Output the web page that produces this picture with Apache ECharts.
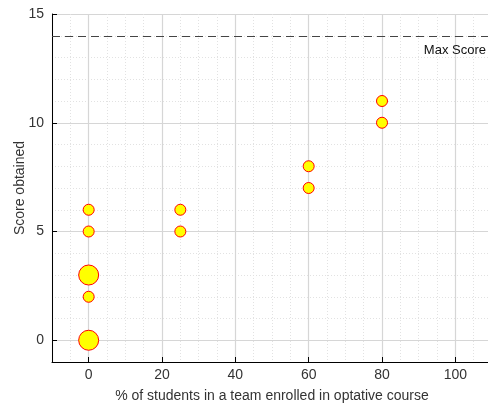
<!DOCTYPE html>
<html><head><meta charset="utf-8">
<script src="https://cdn.jsdelivr.net/npm/echarts@6/dist/echarts.min.js"></script>
<style>html,body{margin:0;padding:0;background:#fff}#c{width:488px;height:405px}</style>
</head><body><div id="c"></div>
<script>
const pctEnrolled = [0, 0, 0, 0, 0, 25, 25, 60, 60, 80, 80];
const scores      = [0, 2, 3, 5, 6, 5, 6, 7, 8, 10, 11];
const teamCounts  = [2, 1, 2, 1, 1, 1, 1, 1, 1, 1, 1];
const xTickLabels = [0, 20, 40, 60, 80, 100];
const yTickLabels = [0, 5, 10, 15];
const maxScore = 14;

const data = pctEnrolled.map((x, i) => [x, scores[i], teamCounts[i]]);
const font = 'Liberation Sans, Arial, sans-serif';
const chart = echarts.init(document.getElementById('c'));
chart.setOption({
  animation: false,
  grid: { left: 52, right: -4, top: 14, bottom: 43, containLabel: false, outerBoundsMode: 'none' },
  xAxis: {
    type: 'value', min: -10, max: 110, splitNumber: 5,
    name: '% of students in a team enrolled in optative course',
    nameLocation: 'middle', nameGap: 27, nameMoveOverlap: false,
    nameTextStyle: { fontFamily: font, fontSize: 14, color: '#333' },
    axisLine: { onZero: false, lineStyle: { color: '#000', width: 1 } },
    axisTick: { inside: true, length: 5, lineStyle: { color: '#000' } },
    axisLabel: { margin: 6, fontFamily: font, fontSize: 14, color: '#333',
      formatter: v => xTickLabels.includes(v) ? String(v) : '' },
    splitLine: { show: true, lineStyle: { color: '#d6d6d6', width: 1.2 } },
    minorTick: { show: false, splitNumber: 4 },
    minorSplitLine: { show: true, lineStyle: { color: '#e2e2e2', type: [1, 2], width: 1 } }
  },
  yAxis: {
    type: 'value', min: -1, max: 15, splitNumber: 3,
    name: 'Score obtained', nameLocation: 'middle', nameGap: 25, nameMoveOverlap: false,
    nameTextStyle: { fontFamily: font, fontSize: 14, color: '#333' },
    axisLine: { onZero: false, lineStyle: { color: '#000', width: 1 } },
    axisTick: { inside: true, length: 5, lineStyle: { color: '#000' } },
    axisLabel: { margin: 8, fontFamily: font, fontSize: 14, color: '#333',
      formatter: v => yTickLabels.includes(v) ? String(v) : '' },
    splitLine: { show: true, lineStyle: { color: '#d6d6d6', width: 1.2 } },
    minorTick: { show: false, splitNumber: 5 },
    minorSplitLine: { show: true, lineStyle: { color: '#e2e2e2', type: [1, 2], width: 1 } }
  },
  series: [{
    type: 'scatter',
    data: data,
    symbolSize: d => d[2] > 1 ? 20 : 11,
    itemStyle: { color: '#ffff00', borderColor: '#ff0000', borderWidth: 1, opacity: 1 },
    z: 5,
    markLine: {
      silent: true, symbol: 'none',
      lineStyle: { color: '#444', type: [8, 5], width: 1 },
      label: { show: true, position: 'insideEndBottom', formatter: 'Max Score',
        fontFamily: font, fontSize: 13, color: '#111', distance: [6, 8] },
      data: [{ yAxis: maxScore }]
    }
  }]
});
</script></body></html>
